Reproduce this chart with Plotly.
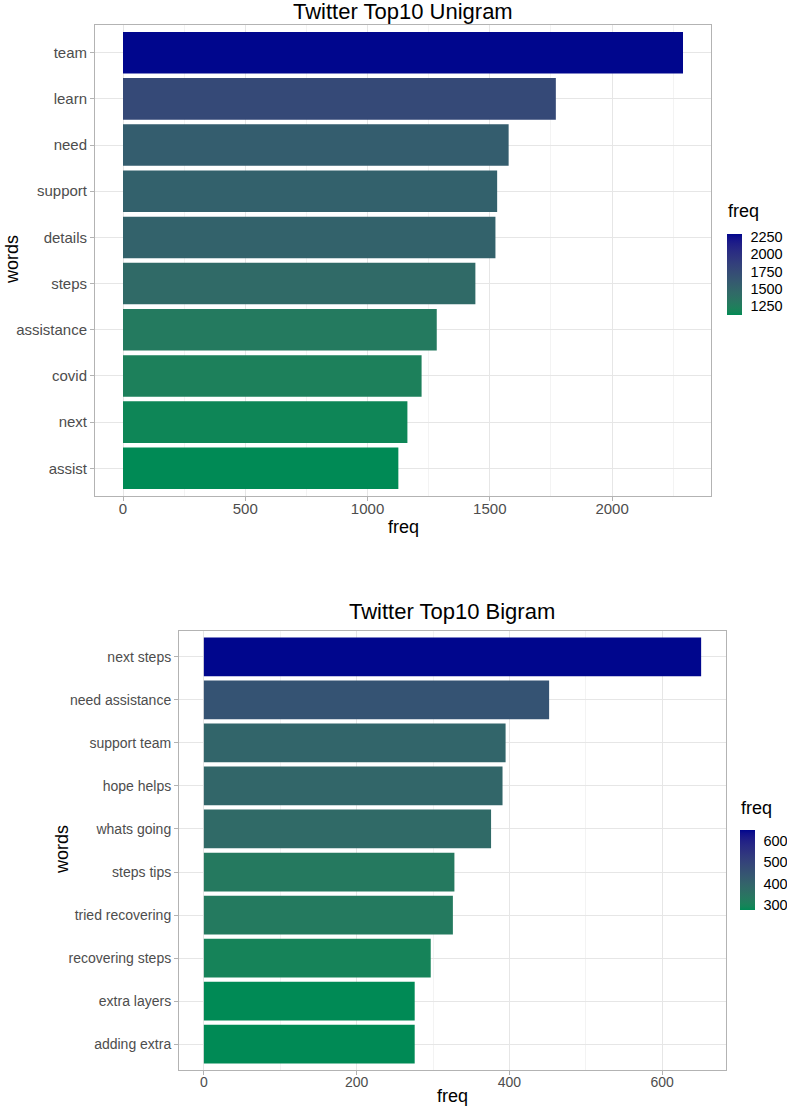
import plotly.graph_objects as go

# ---------------- data ----------------
uni_words = ["team", "learn", "need", "support", "details", "steps",
             "assistance", "covid", "next", "assist"]
uni_freq = [2290, 1770, 1577, 1530, 1523, 1441, 1283, 1221, 1163, 1126]

bi_words = ["next steps", "need assistance", "support team", "hope helps",
            "whats going", "steps tips", "tried recovering", "recovering steps",
            "extra layers", "adding extra"]
bi_freq = [651, 452, 395, 391, 376, 328, 326, 297, 276, 276]

uni_title = "Twitter Top10 Unigram"
bi_title = "Twitter Top10 Bigram"
x_label = "freq"
y_label = "words"
legend_label = "freq"

# ---------------- style ----------------
W, H = 787, 1107
FONT = "Liberation Sans, Arial, sans-serif"
LOW, HIGH = "#008A55", "#00068D"


def hex2rgb(h):
    h = h.lstrip("#")
    return [int(h[i:i + 2], 16) / 255 for i in (0, 2, 4)]


def srgb2lab(rgb):
    lin = [c / 12.92 if c <= 0.04045 else ((c + 0.055) / 1.055) ** 2.4 for c in rgb]
    X = 0.4124564 * lin[0] + 0.3575761 * lin[1] + 0.1804375 * lin[2]
    Y = 0.2126729 * lin[0] + 0.7151522 * lin[1] + 0.0721750 * lin[2]
    Z = 0.0193339 * lin[0] + 0.1191920 * lin[1] + 0.9503041 * lin[2]
    d = 6 / 29

    def f(t):
        return t ** (1 / 3) if t > d ** 3 else t / (3 * d * d) + 4 / 29
    fx, fy, fz = f(X / 0.95047), f(Y / 1.0), f(Z / 1.08883)
    return [116 * fy - 16, 500 * (fx - fy), 200 * (fy - fz)]


def lab2hex(lab):
    L, a, b = lab
    fy = (L + 16) / 116
    fx = fy + a / 500
    fz = fy - b / 200
    d = 6 / 29

    def finv(t):
        return t ** 3 if t > d else 3 * d * d * (t - 4 / 29)
    X, Y, Z = 0.95047 * finv(fx), 1.0 * finv(fy), 1.08883 * finv(fz)
    r = 3.2404542 * X - 1.5371385 * Y - 0.4985314 * Z
    g = -0.9692660 * X + 1.8760108 * Y + 0.0415560 * Z
    bl = 0.0556434 * X - 0.2040259 * Y + 1.0572252 * Z
    out = []
    for c in (r, g, bl):
        c = 12.92 * c if c <= 0.0031308 else 1.055 * c ** (1 / 2.4) - 0.055
        out.append(int(round(min(max(c, 0), 1) * 255)))
    return "#%02x%02x%02x" % tuple(out)


def lab_scale(low, high, n=25):
    l1, l2 = srgb2lab(hex2rgb(low)), srgb2lab(hex2rgb(high))
    return [[i / (n - 1), lab2hex([l1[k] + (l2[k] - l1[k]) * i / (n - 1) for k in range(3)])]
            for i in range(n)]


SCALE = lab_scale(LOW, HIGH)


def px(x):
    return x / W


def py(y):
    return 1 - y / H


fig = go.Figure()
fig.add_trace(go.Bar(x=uni_freq, y=uni_words, orientation="h", width=0.9,
                     marker=dict(color=uni_freq, coloraxis="coloraxis", line=dict(width=0)),
                     xaxis="x", yaxis="y", showlegend=False))
fig.add_trace(go.Bar(x=bi_freq, y=bi_words, orientation="h", width=0.9,
                     marker=dict(color=bi_freq, coloraxis="coloraxis2", line=dict(width=0)),
                     xaxis="x2", yaxis="y2", showlegend=False))

GRID = "#E6E6E6"
MINOR = "#F3F3F3"
BORDER = "#B3B3B3"
TXT = "#4D4D4D"


def xaxis_cfg(domain, vmax, dtick, anchor, size):
    return dict(domain=domain, anchor=anchor, range=[-0.05 * vmax, 1.05 * vmax],
                tick0=0, dtick=dtick, showgrid=True, gridcolor=GRID, gridwidth=1,
                minor=dict(dtick=dtick / 2, tick0=0, showgrid=True, gridcolor=MINOR, gridwidth=1),
                zeroline=False, showline=True, linecolor=BORDER, linewidth=1, mirror=True,
                ticks="outside", ticklen=4, tickcolor=BORDER, automargin=False,
                ticklabelstandoff=-5,
                tickfont=dict(family=FONT, size=size, color=TXT))


def yaxis_cfg(domain, cats, anchor, size):
    return dict(domain=domain, anchor=anchor, type="category", categoryorder="array",
                categoryarray=cats, range=[len(cats) - 0.4, -0.6],
                showgrid=True, gridcolor=GRID, gridwidth=1, zeroline=False,
                showline=True, linecolor=BORDER, linewidth=1, mirror=True,
                ticks="outside", ticklen=4, tickcolor=BORDER, automargin=False,
                tickfont=dict(family=FONT, size=size, color=TXT))


def cbar(x_left, y_top, y_bot, dtick):
    return dict(x=px(x_left), xanchor="left", xpad=0, ypad=0,
                y=py((y_top + y_bot) / 2), yanchor="middle",
                len=y_bot - y_top, lenmode="pixels", thickness=15, thicknessmode="pixels",
                outlinewidth=0, ticks="outside", ticklen=6, tickcolor="rgba(255,255,255,0)",
                tick0=0, dtick=dtick, tickfont=dict(family=FONT, size=14.5, color="#000000"))


fig.update_layout(
    width=W, height=H, autosize=False,
    margin=dict(l=0, r=0, t=0, b=0, autoexpand=False),
    paper_bgcolor="white", plot_bgcolor="white",
    xaxis=xaxis_cfg([px(95), px(711)], max(uni_freq), 500, "y", 15),
    yaxis=yaxis_cfg([py(496), py(25)], uni_words, "x", 15),
    xaxis2=xaxis_cfg([px(179), px(726)], max(bi_freq), 200, "y2", 14),
    yaxis2=yaxis_cfg([py(1070), py(631)], bi_words, "x2", 14),
    coloraxis=dict(colorscale=SCALE, cmin=min(uni_freq), cmax=max(uni_freq),
                   colorbar=cbar(727, 234, 315, 250)),
    coloraxis2=dict(colorscale=SCALE, cmin=min(bi_freq), cmax=max(bi_freq),
                    colorbar=cbar(740, 830, 910, 100)),
)

ann = []


def text(x, y, s, size, color="#000000", angle=0, xanchor="center"):
    ann.append(dict(x=px(x), y=py(y), xref="paper", yref="paper", text=s, showarrow=False,
                    xanchor=xanchor, yanchor="middle", textangle=angle,
                    font=dict(family=FONT, size=size, color=color)))


text(403, 11, uni_title, 22)
text(452, 611, bi_title, 22)
text(403, 527, x_label, 18)
text(452, 1096, x_label, 18)
text(12, 260, y_label, 18, angle=-90)
text(62, 850, y_label, 18, angle=-90)
text(726, 211, legend_label, 18, xanchor="left")
text(739, 808, legend_label, 18, xanchor="left")
fig.update_layout(annotations=ann)

fig.write_html("out.html", config={"displayModeBar": False},
               post_script="document.body.style.margin='0';document.body.style.padding='0';"
                           "document.body.style.overflow='hidden';")
